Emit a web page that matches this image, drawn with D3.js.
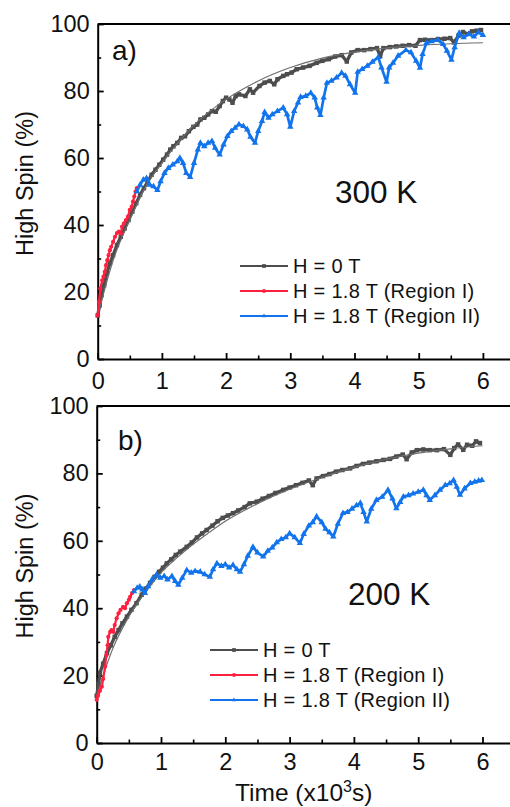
<!DOCTYPE html>
<html><head><meta charset="utf-8">
<script src="https://cdn.jsdelivr.net/npm/d3@7"></script>
<style>
body{margin:0;background:#fff;}
svg{display:block;font-family:'Liberation Sans',Arial,sans-serif;}
</style></head>
<body><svg id="c" width="510" height="807"></svg>
<script>
// ---------- DATA (time in 10^3 s, high spin %) ----------
const xTicks = [0,1,2,3,4,5,6];
const yTicks = [0,20,40,60,80,100];
const legendLabels = ["H = 0 T","H = 1.8 T (Region I)","H = 1.8 T (Region II)"];
const panelLabels = ["a)","b)"];
const tempLabels = ["300 K","200 K"];

const topGray = [[0,13],[0.03,16],[0.06,19],[0.1,22],[0.14,25.5],[0.19,28.6],[0.24,31],[0.3,34],[0.36,36.5],[0.42,39],[0.48,41.5],[0.54,44],[0.6,46.5],[0.66,49],[0.72,51],[0.78,53],[0.84,55],[0.9,56.5],[0.96,58],[1.02,59.5],[1.08,61],[1.13,62.5],[1.18,63.5],[1.24,64.5],[1.3,66],[1.36,66.5],[1.42,68],[1.49,69.3],[1.55,70],[1.6,71.5],[1.66,72],[1.72,73],[1.78,74],[1.84,73.8],[1.9,75.5],[1.95,77],[2.0,78],[2.05,77.5],[2.1,76.5],[2.15,78.5],[2.2,79],[2.3,78.5],[2.37,80.5],[2.42,79.5],[2.52,81.5],[2.6,82.5],[2.68,83],[2.75,82],[2.8,83.5],[2.89,84.5],[2.95,85],[3.02,85.5],[3.1,86.5],[3.2,87],[3.3,87.5],[3.41,88.4],[3.5,89],[3.6,89.5],[3.7,90.3],[3.8,90.7],[3.88,88.8],[3.95,91.5],[4.05,92.2],[4.15,92.2],[4.25,92.5],[4.35,92.8],[4.4,90.4],[4.45,92.8],[4.55,93.1],[4.65,93.3],[4.75,93.5],[4.85,93.7],[4.95,93.5],[5.02,95.2],[5.1,95.3],[5.2,95.2],[5.3,95.5],[5.4,95.6],[5.49,95.8],[5.55,94.5],[5.62,96.5],[5.69,97.6],[5.76,97],[5.83,97.8],[5.9,98],[5.97,98.2]];
const topFit = [[0,13],[0.25,30],[0.5,41.5],[0.75,51.5],[1,58.5],[1.25,64.5],[1.5,69.8],[1.75,74],[2,77.5],[2.5,83],[3,87],[3.5,89.8],[4,91.6],[4.5,92.8],[5,93.6],[5.5,94.1],[6,94.4]];
const topRed = [[0,13],[0.02,17],[0.04,21],[0.07,23.5],[0.09,24.6],[0.11,26],[0.13,28],[0.15,29.5],[0.17,31],[0.19,32.5],[0.21,33.5],[0.24,35],[0.27,36.5],[0.3,37.6],[0.33,38],[0.36,37.5],[0.38,39.5],[0.41,40.5],[0.44,41.5],[0.47,42.5],[0.5,44.5],[0.53,45.5],[0.55,47],[0.57,48.5],[0.59,50],[0.61,51]];
const topBlue = [[0.61,50],[0.66,52],[0.71,53.5],[0.76,54],[0.81,52],[0.87,51.5],[0.93,50.4],[0.98,53],[1.04,55.5],[1.1,57],[1.17,58],[1.24,59],[1.28,60],[1.33,58.5],[1.38,55.5],[1.44,54.3],[1.5,58.5],[1.56,62.5],[1.6,64.5],[1.66,63.5],[1.72,64.5],[1.78,65],[1.83,63],[1.9,61],[1.96,64],[2.02,66.5],[2.08,68],[2.14,69],[2.2,70],[2.27,69.5],[2.33,68.5],[2.38,66.3],[2.45,64.5],[2.5,68],[2.56,71],[2.6,73.7],[2.66,72],[2.72,73],[2.8,74],[2.89,75],[2.95,73],[3.0,69.3],[3.06,74],[3.12,76.5],[3.16,78.2],[3.24,78.5],[3.32,79.4],[3.38,78],[3.42,75],[3.47,72.8],[3.52,78],[3.57,82.4],[3.64,83],[3.72,84],[3.8,85.4],[3.86,84.5],[3.93,82],[4.01,79.4],[4.05,85.7],[4.12,86.5],[4.2,87.5],[4.28,88.7],[4.37,90.1],[4.42,87],[4.5,82.7],[4.54,87],[4.6,88.4],[4.68,90.5],[4.8,92.2],[4.88,91.5],[4.96,89],[5.02,86.9],[5.06,91],[5.12,94.3],[5.2,94.8],[5.3,95.2],[5.38,94],[5.44,92],[5.51,89.3],[5.56,93],[5.63,97.3],[5.7,96],[5.78,97],[5.86,96.2],[5.93,97.5],[6.0,96.7]];

const botGray = [[0,14],[0.03,17.5],[0.05,20.8],[0.1,23.5],[0.16,26.7],[0.22,29],[0.28,31.5],[0.34,33.5],[0.4,35.5],[0.47,37.5],[0.54,39.5],[0.62,41.5],[0.7,44],[0.76,45.8],[0.83,47.5],[0.9,49.3],[0.97,50.8],[1.03,52],[1.09,53.3],[1.16,54.5],[1.23,55.8],[1.3,56.8],[1.4,58.2],[1.48,59.5],[1.56,61],[1.64,62.2],[1.71,63.2],[1.8,64.5],[1.88,65.8],[1.96,66.8],[2.04,67.5],[2.12,68.2],[2.2,69],[2.3,70],[2.38,71.1],[2.49,71.6],[2.58,72.5],[2.68,73.3],[2.78,74.2],[2.9,75.1],[3.0,75.8],[3.1,76.5],[3.2,77.2],[3.3,77.9],[3.36,76.5],[3.42,78.5],[3.52,79.2],[3.62,79.8],[3.72,80.5],[3.82,81],[3.94,81.5],[4.04,82.2],[4.14,82.8],[4.24,83.2],[4.35,83.6],[4.46,84],[4.56,84.3],[4.66,85],[4.76,85.6],[4.82,84.2],[4.9,86.2],[4.98,86.9],[5.08,87.1],[5.18,86.9],[5.29,86.9],[5.4,87.2],[5.5,85.5],[5.56,87.5],[5.62,88.6],[5.7,87],[5.76,88.5],[5.84,88.2],[5.9,89.5],[5.96,89]];
const botFit = [[0,14],[0.25,28],[0.5,37.5],[0.75,44.5],[1,50.5],[1.25,55],[1.5,59],[1.75,62.5],[2,65.8],[2.5,71],[3,75.3],[3.5,78.8],[4,81.8],[4.5,84.2],[5,86],[5.5,87.3],[6,88.2]];
const botRed = [[0,12.8],[0.02,14],[0.05,15.5],[0.08,16.7],[0.1,19],[0.13,22.6],[0.15,26],[0.17,29],[0.18,31.5],[0.21,33],[0.23,33.5],[0.26,33],[0.28,35],[0.31,37],[0.34,38.5],[0.37,39.5],[0.41,40.4],[0.44,40],[0.47,41.5],[0.5,42.5],[0.52,43.4],[0.55,44.5],[0.58,45.4]];
const botBlue = [[0.58,45],[0.63,46],[0.67,46.4],[0.71,45.5],[0.75,44.5],[0.8,46.5],[0.86,48.5],[0.93,49.9],[0.99,49],[1.05,49.5],[1.1,48.5],[1.17,49.5],[1.22,48],[1.27,46.9],[1.33,49],[1.4,51.3],[1.47,50.5],[1.53,51],[1.61,50.8],[1.68,50],[1.76,49.3],[1.81,51.5],[1.87,53.3],[1.94,52.5],[2.0,53],[2.06,52],[2.12,52.8],[2.18,51.5],[2.23,50.8],[2.29,53],[2.35,55.5],[2.43,58.2],[2.5,56.5],[2.59,55.3],[2.66,57],[2.73,58],[2.8,59.5],[2.87,60.5],[2.94,61],[3.0,62.2],[3.08,61],[3.16,59.3],[3.22,62],[3.3,64.5],[3.36,65.5],[3.42,67.2],[3.5,65.5],[3.56,63.5],[3.62,62.5],[3.68,61.2],[3.75,65],[3.83,68.2],[3.9,68.5],[3.97,69.5],[4.04,70.5],[4.1,71.2],[4.15,68.5],[4.2,65.7],[4.27,69.5],[4.35,72.1],[4.44,73],[4.53,75.1],[4.6,72.5],[4.66,69.6],[4.72,71.5],[4.77,73.1],[4.85,73.5],[4.92,74],[5.0,74.5],[5.08,75.1],[5.13,73.5],[5.18,72.1],[5.26,73.5],[5.34,75.1],[5.42,76.5],[5.49,77],[5.55,78],[5.6,76],[5.65,73.6],[5.72,75.5],[5.81,77.1],[5.88,77.5],[5.94,77.8],[5.99,78]];

// ---------- STYLE ----------
const GRAY = "#4d4d4d", RED = "#ff1f3f", BLUE = "#1274ec", FIT = "#6e6e6e";
const svg = d3.select("#c");

const panels = [
  {x0:97.7, xUnit:64.2, yTop:24, yBot:359, padX:13, gray:topGray, fit:topFit, red:topRed, blue:topBlue,
   label:panelLabels[0], labelPos:[112,60], temp:tempLabels[0], tempPos:[335,203],
   legX:240, legY:266, titleY:183.5},
  {x0:96.7, xUnit:64.3, yTop:406, yBot:743, padX:10, gray:botGray, fit:botFit, red:botRed, blue:botBlue,
   label:panelLabels[1], labelPos:[118,450], temp:tempLabels[1], tempPos:[348,605],
   legX:210, legY:650, titleY:566}
];

panels.forEach(p => {
  const x = d3.scaleLinear().domain([0,6.5]).range([p.x0, p.x0 + p.xUnit*6.5]);
  const y = d3.scaleLinear().domain([0,100]).range([p.yBot, p.yTop]);
  const g = svg.append("g");

  // top frame line
  g.append("line").attr("x1", x(0)).attr("x2", x(6.5)).attr("y1", y(100)).attr("y2", y(100))
    .attr("stroke","#000").attr("stroke-width",2);

  // minor ticks
  g.append("g").attr("transform",`translate(0,${p.yBot})`)
    .call(d3.axisBottom(x).tickValues([0.5,1.5,2.5,3.5,4.5,5.5,6.5]).tickSize(-3.5).tickFormat(""))
    .call(a => a.select(".domain").remove())
    .call(a => a.selectAll("line").attr("stroke-width",1.6));
  g.append("g").attr("transform",`translate(${p.x0},0)`)
    .call(d3.axisLeft(y).tickValues([10,30,50,70,90]).tickSize(-3.5).tickFormat(""))
    .call(a => a.select(".domain").remove())
    .call(a => a.selectAll("line").attr("stroke-width",1.6));

  // major axes
  const xa = g.append("g").attr("transform",`translate(0,${p.yBot})`)
    .call(d3.axisBottom(x).tickValues(xTicks).tickSize(-6).tickSizeOuter(0).tickPadding(p.padX).tickFormat(d3.format("d")));
  const ya = g.append("g").attr("transform",`translate(${p.x0},0)`)
    .call(d3.axisLeft(y).tickValues(yTicks).tickSize(-6).tickSizeOuter(0).tickPadding(8));
  [xa,ya].forEach(a => {
    a.select(".domain").attr("stroke-width",2);
    a.selectAll(".tick line").attr("stroke-width",1.8);
    a.selectAll("text").attr("font-size","23.5px").attr("fill","#111")
      .attr("font-family","'Liberation Sans',Arial,sans-serif");
  });

  const line = d3.line().x(d => x(d[0])).y(d => y(d[1]));
  const plot = g.append("g");

  // gray data
  plot.append("path").datum(p.gray).attr("d", line).attr("fill","none")
    .attr("stroke", GRAY).attr("stroke-width",3.3).attr("stroke-linejoin","round");
  plot.selectAll(".gs").data(p.gray).join("path")
    .attr("transform", d => `translate(${x(d[0])},${y(d[1])})`)
    .attr("d", d3.symbol(d3.symbolSquare, 20)).attr("fill", GRAY);
  // fit
  plot.append("path").datum(p.fit).attr("d", d3.line().curve(d3.curveMonotoneX).x(d => x(d[0])).y(d => y(d[1])))
    .attr("fill","none").attr("stroke", FIT).attr("stroke-width",1.2);
  // red
  plot.append("path").datum(p.red).attr("d", line).attr("fill","none")
    .attr("stroke", RED).attr("stroke-width",2.2);
  plot.selectAll(".rs").data(p.red).join("circle")
    .attr("cx", d => x(d[0])).attr("cy", d => y(d[1])).attr("r",2.1).attr("fill", RED);
  // blue
  plot.append("path").datum(p.blue).attr("d", line).attr("fill","none")
    .attr("stroke", BLUE).attr("stroke-width",2.7).attr("stroke-linejoin","round");
  plot.selectAll(".bs").data(p.blue).join("path")
    .attr("transform", d => `translate(${x(d[0])},${y(d[1])})`)
    .attr("d", d3.symbol(d3.symbolTriangle, 18)).attr("fill", BLUE);

  // labels
  g.append("text").attr("x", p.labelPos[0]).attr("y", p.labelPos[1]).attr("font-size","28px").attr("fill","#111").text(p.label);
  g.append("text").attr("x", p.tempPos[0]).attr("y", p.tempPos[1]).attr("font-size","31.5px").attr("fill","#111").text(p.temp);

  // y title
  g.append("text").attr("transform",`translate(33,${p.titleY}) rotate(-90)`)
    .attr("text-anchor","middle").attr("font-size","23.5px").attr("fill","#111").text("High Spin (%)");

  // legend
  const cols = [GRAY, RED, BLUE];
  legendLabels.forEach((lab,i) => {
    const ly = p.legY + i*25;
    const lg = g.append("g");
    lg.append("line").attr("x1", p.legX).attr("x2", p.legX+48).attr("y1", ly).attr("y2", ly)
      .attr("stroke", cols[i]).attr("stroke-width", 2.2);
    const mx = p.legX+24;
    if (i===0) lg.append("path").attr("transform",`translate(${mx},${ly})`).attr("d", d3.symbol(d3.symbolSquare,14)).attr("fill",GRAY);
    if (i===1) lg.append("circle").attr("cx",mx).attr("cy",ly).attr("r",1.9).attr("fill",RED);
    if (i===2) lg.append("path").attr("transform",`translate(${mx},${ly})`).attr("d", d3.symbol(d3.symbolTriangle,8)).attr("fill",BLUE);
    lg.append("text").attr("x", p.legX+53).attr("y", ly).attr("dy","0.35em")
      .attr("font-size","20px").attr("letter-spacing","0.3px").attr("fill","#111").text(lab);
  });
});

// x title
const xt = svg.append("text").attr("x",235).attr("y",801).attr("font-size","24.5px").attr("fill","#111");
xt.append("tspan").text("Time (x10");
xt.append("tspan").attr("font-size","16px").attr("dy","-9").text("3");
xt.append("tspan").attr("dy","9").text("s)");
</script>
</body></html>
